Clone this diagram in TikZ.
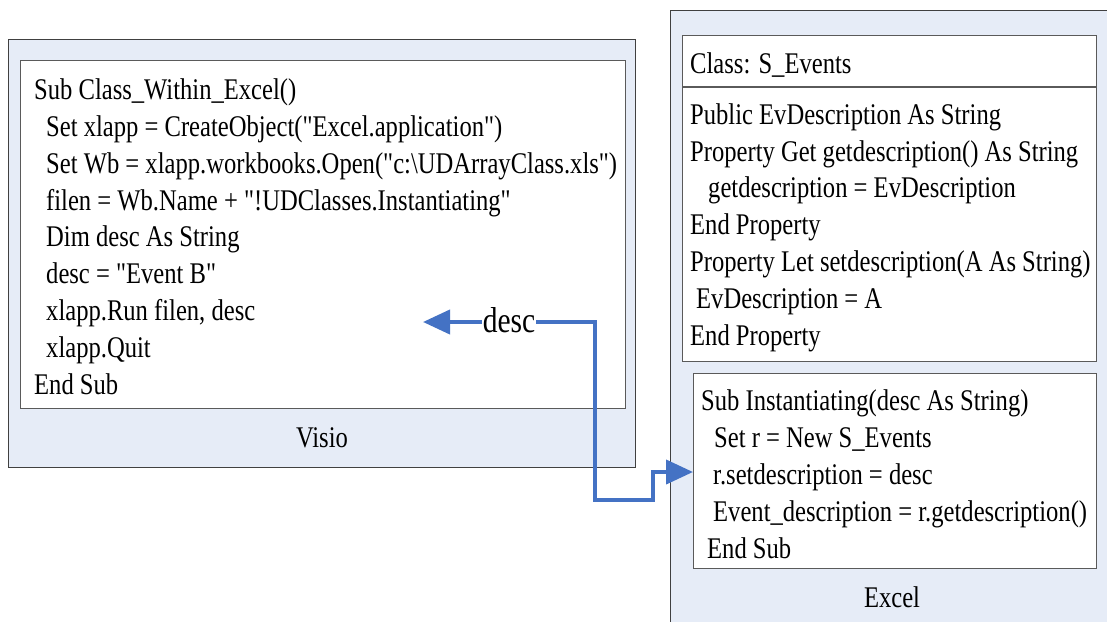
\documentclass[tikz,border=0pt]{standalone}
\usepackage{fontspec}
\newfontfamily\vfont[FakeStretch=0.82]{Liberation Serif}
\usetikzlibrary{arrows.meta}
\definecolor{panelfill}{RGB}{230,236,247}
\definecolor{panelline}{RGB}{64,64,64}
\definecolor{boxline}{RGB}{90,90,90}
\definecolor{arrowblue}{RGB}{68,114,196}
\tikzset{
  panel/.style={draw=panelline, line width=1.2pt, fill=panelfill, anchor=north west, inner sep=0pt},
  codebox/.style={draw=boxline, line width=1.4pt, fill=white, anchor=north west, inner sep=0pt},
  code/.style={font=\vfont\fontsize{30}{36.8}\selectfont, align=left, anchor=base west, inner sep=0pt},
  caption/.style={font=\vfont\fontsize{30}{37}\selectfont, anchor=base, inner sep=0pt},
  flow/.style={draw=arrowblue, line width=4pt, -{Triangle[length=27pt,width=24pt]}},
}
\begin{document}
\begin{tikzpicture}[x=1pt,y=-1pt]
\useasboundingbox (0,0) rectangle (1107,621);
\clip (0,0) rectangle (1107,621);
% Visio panel
\node[panel, minimum width=627pt, minimum height=428pt] (visio) at (8,39) {};
\node[codebox, minimum width=605pt, minimum height=348pt] (vcode) at (20,60) {};
\node[caption] (visiolbl) at (322,447) {Visio};
% anchor = baseline of the last line
\node[code] (vtext) at (34,394) {Sub Class\_Within\_Excel()\\
\hspace*{12pt}Set xlapp = CreateObject("Excel.application")\\
\hspace*{12pt}Set Wb = xlapp.workbooks.Open("c:\textbackslash UDArrayClass.xls")\\
\hspace*{12pt}filen = Wb.Name + "!UDClasses.Instantiating"\\
\hspace*{12pt}Dim desc As String\\
\hspace*{12pt}desc = "Event B"\\
\hspace*{12pt}xlapp.Run filen, desc\\
\hspace*{12pt}xlapp.Quit\\
End Sub};
% Excel panel
\node[panel, minimum width=460pt, minimum height=640pt] (excel) at (670,10) {};
\node[codebox, minimum width=414pt, minimum height=326pt] (cls) at (682,35) {};
\draw[draw=boxline, line width=1.4pt] (cls.west |- 0,87) -- (cls.east |- 0,87);
\node[code] (clshead) at (690,73) {Class: S\_Events};
\node[code] (clsbody) at (690,345) {Public EvDescription As String\\
Property Get getdescription() As String\\
\hspace*{18pt}getdescription = EvDescription\\
End Property\\
Property Let setdescription(A As String)\\
\hspace*{6pt}EvDescription = A\\
End Property};
\node[codebox, minimum width=403pt, minimum height=195pt] (sub) at (693,373) {};
\node[code] (subtext) at (701,558) {Sub Instantiating(desc As String)\\
\hspace*{13pt}Set r = New S\_Events\\
\hspace*{12pt}r.setdescription = desc\\
\hspace*{12pt}Event\_description = r.getdescription()\\
\hspace*{6pt}End Sub};
\node[caption] (excellbl) at (892,607) {Excel};
% connector
\node[font=\vfont\fontsize{36}{40}\selectfont, inner sep=1pt, fill=white] (desc) at (509,320) {desc};
\coordinate (tipL) at (423,322);
\draw[flow] (desc.west |- tipL) -- (tipL);
\draw[flow] (desc.east |- tipL) -- (595,322) -- (595,500) -- (653,500) -- (653,472) -- (sub.west |- 0,472);
\end{tikzpicture}
\end{document}
